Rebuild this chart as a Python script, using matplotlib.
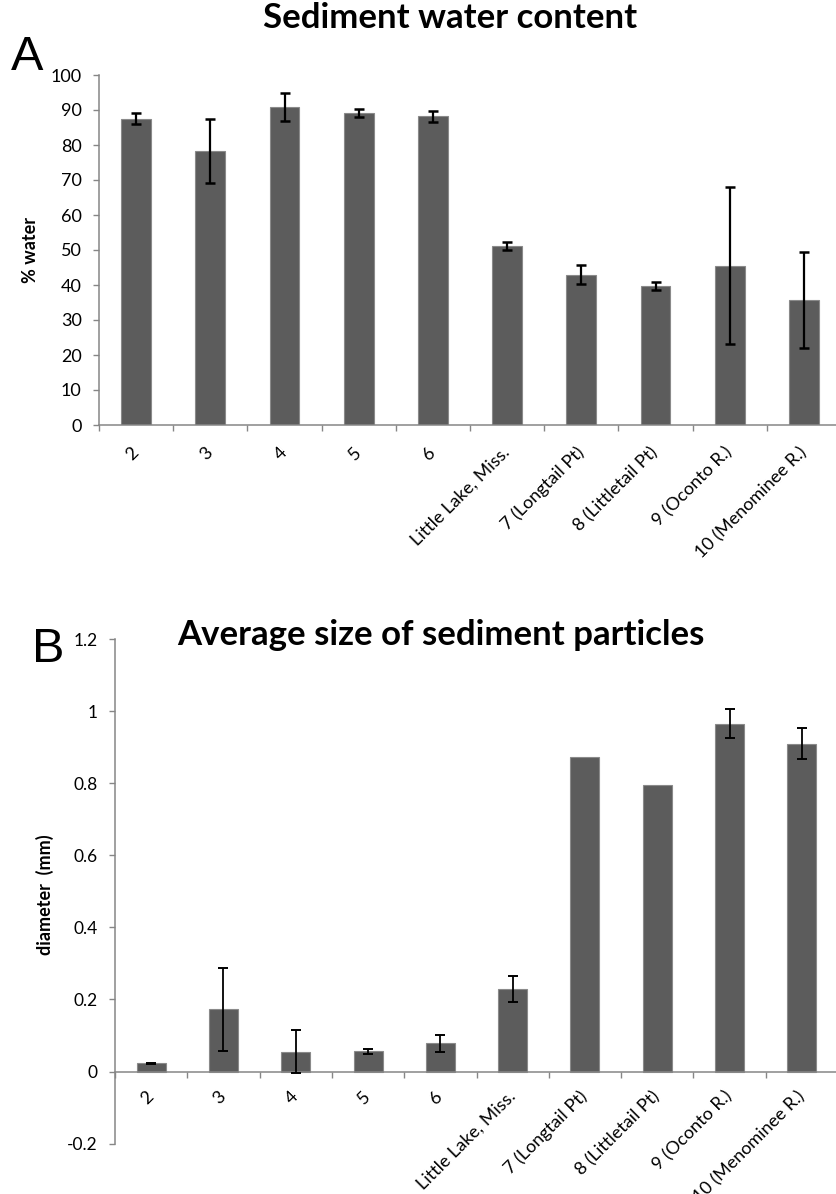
import numpy as np
import matplotlib
matplotlib.use("Agg")
import matplotlib.pyplot as plt
from matplotlib.ticker import FuncFormatter

# Data
sites = ["2", "3", "4", "5", "6", "Little Lake, Miss.", "7 (Longtail Pt)",
         "8 (Littletail Pt)", "9 (Oconto R.)", "10 (Menominee R.)"]
water = [87.5, 78.3, 91.0, 89.1, 88.2, 51.2, 43.0, 39.8, 45.5, 35.8]
water_err = [1.6, 9.2, 4.0, 1.1, 1.6, 1.1, 2.6, 1.2, 22.4, 13.7]
size_mm = [0.023, 0.173, 0.055, 0.057, 0.078, 0.228, 0.872, 0.796, 0.965, 0.909]
size_err = [0.002, 0.115, 0.060, 0.007, 0.024, 0.036, np.nan, np.nan, 0.040, 0.043]

plt.rcParams['font.family'] = ['Lato', 'DejaVu Sans']
plt.rcParams['axes.unicode_minus'] = False

W, H = 836, 1194
bar_col = "#5c5c5c"
edge_col = "#8a8a8a"
axis_col = "#868686"

fig = plt.figure(figsize=(W / 100, H / 100), dpi=100)


def style_axes(ax, ylim, yticks, fs, zero_axis=False, xpad=18):
    x = np.arange(len(sites))
    if zero_axis:
        ax.spines["bottom"].set_position(("data", 0))
    ax.set_xlim(-0.5, len(sites) - 0.5)
    ax.set_ylim(*ylim)
    ax.set_yticks(yticks)
    ax.yaxis.set_major_formatter(FuncFormatter(lambda v, p: "{:g}".format(round(v, 2))))
    for s in ["top", "right"]:
        ax.spines[s].set_visible(False)
    for s in ["left", "bottom"]:
        ax.spines[s].set_color(axis_col)
        ax.spines[s].set_linewidth(1.1)
    ax.tick_params(axis="y", colors=axis_col, length=4.5, width=1.0, labelsize=fs,
                   labelcolor="black", pad=8)
    # category boundary ticks (minor), labels at centres (major)
    ax.set_xticks(np.arange(len(sites) + 1) - 0.5, minor=True)
    ax.set_xticks(x)
    ax.set_xticklabels(sites, rotation=45, ha="right", va="center",
                       rotation_mode="anchor", fontsize=13)
    ax.tick_params(axis="x", which="major", length=0, pad=xpad)
    ax.tick_params(axis="x", which="minor", length=4.5, width=1.0, colors=axis_col)
    return x


# Panel A
axA = fig.add_axes([99 / W, (H - 425) / H, 742 / W, 350 / H])
xa = style_axes(axA, (0, 100), np.arange(0, 101, 10), 13)
axA.bar(xa, water, width=0.4, color=bar_col, edgecolor=edge_col, linewidth=0.8, zorder=2)
axA.errorbar(xa, water, yerr=water_err, fmt="none", ecolor="black",
             elinewidth=1.6, capsize=3.5, capthick=1.8, zorder=3)

# Panel B
axB = fig.add_axes([115 / W, (H - 1143.7) / H, 723 / W, (1143.7 - 639) / H])
xb = style_axes(axB, (-0.2, 1.2), np.round(np.arange(-0.2, 1.21, 0.2), 1), 12.5,
                zero_axis=True, xpad=16)
axB.bar(xb, size_mm, width=0.4, color=bar_col, edgecolor=edge_col, linewidth=0.8, zorder=2)
err = np.array(size_err)
ok = ~np.isnan(err)
axB.errorbar(xb[ok], np.array(size_mm)[ok], yerr=err[ok], fmt="none", ecolor="black",
             elinewidth=1.3, capsize=3.5, capthick=1.4, zorder=3)

# Titles and labels
fig.text(450 / W, 1 - 28 / H, "Sediment water content", ha="center", va="baseline",
         fontsize=25, fontweight="bold")
fig.text(441 / W, 1 - 645 / H, "Average size of sediment particles", ha="center",
         va="baseline", fontsize=25, fontweight="bold")
fig.text(30 / W, 1 - 250 / H, "% water", rotation=90, ha="center", va="center",
         fontsize=13, fontweight="bold")
fig.text(45 / W, 1 - 895 / H, "diameter  (mm)", rotation=90, ha="center", va="center",
         fontsize=13, fontweight="bold")
fig.text(11 / W, 1 - 70 / H, "A", ha="left", va="baseline", fontsize=35,
         family="Liberation Sans")
fig.text(32 / W, 1 - 662 / H, "B", ha="left", va="baseline", fontsize=35,
         family="Liberation Sans")

fig.savefig("out.png", dpi=100)
